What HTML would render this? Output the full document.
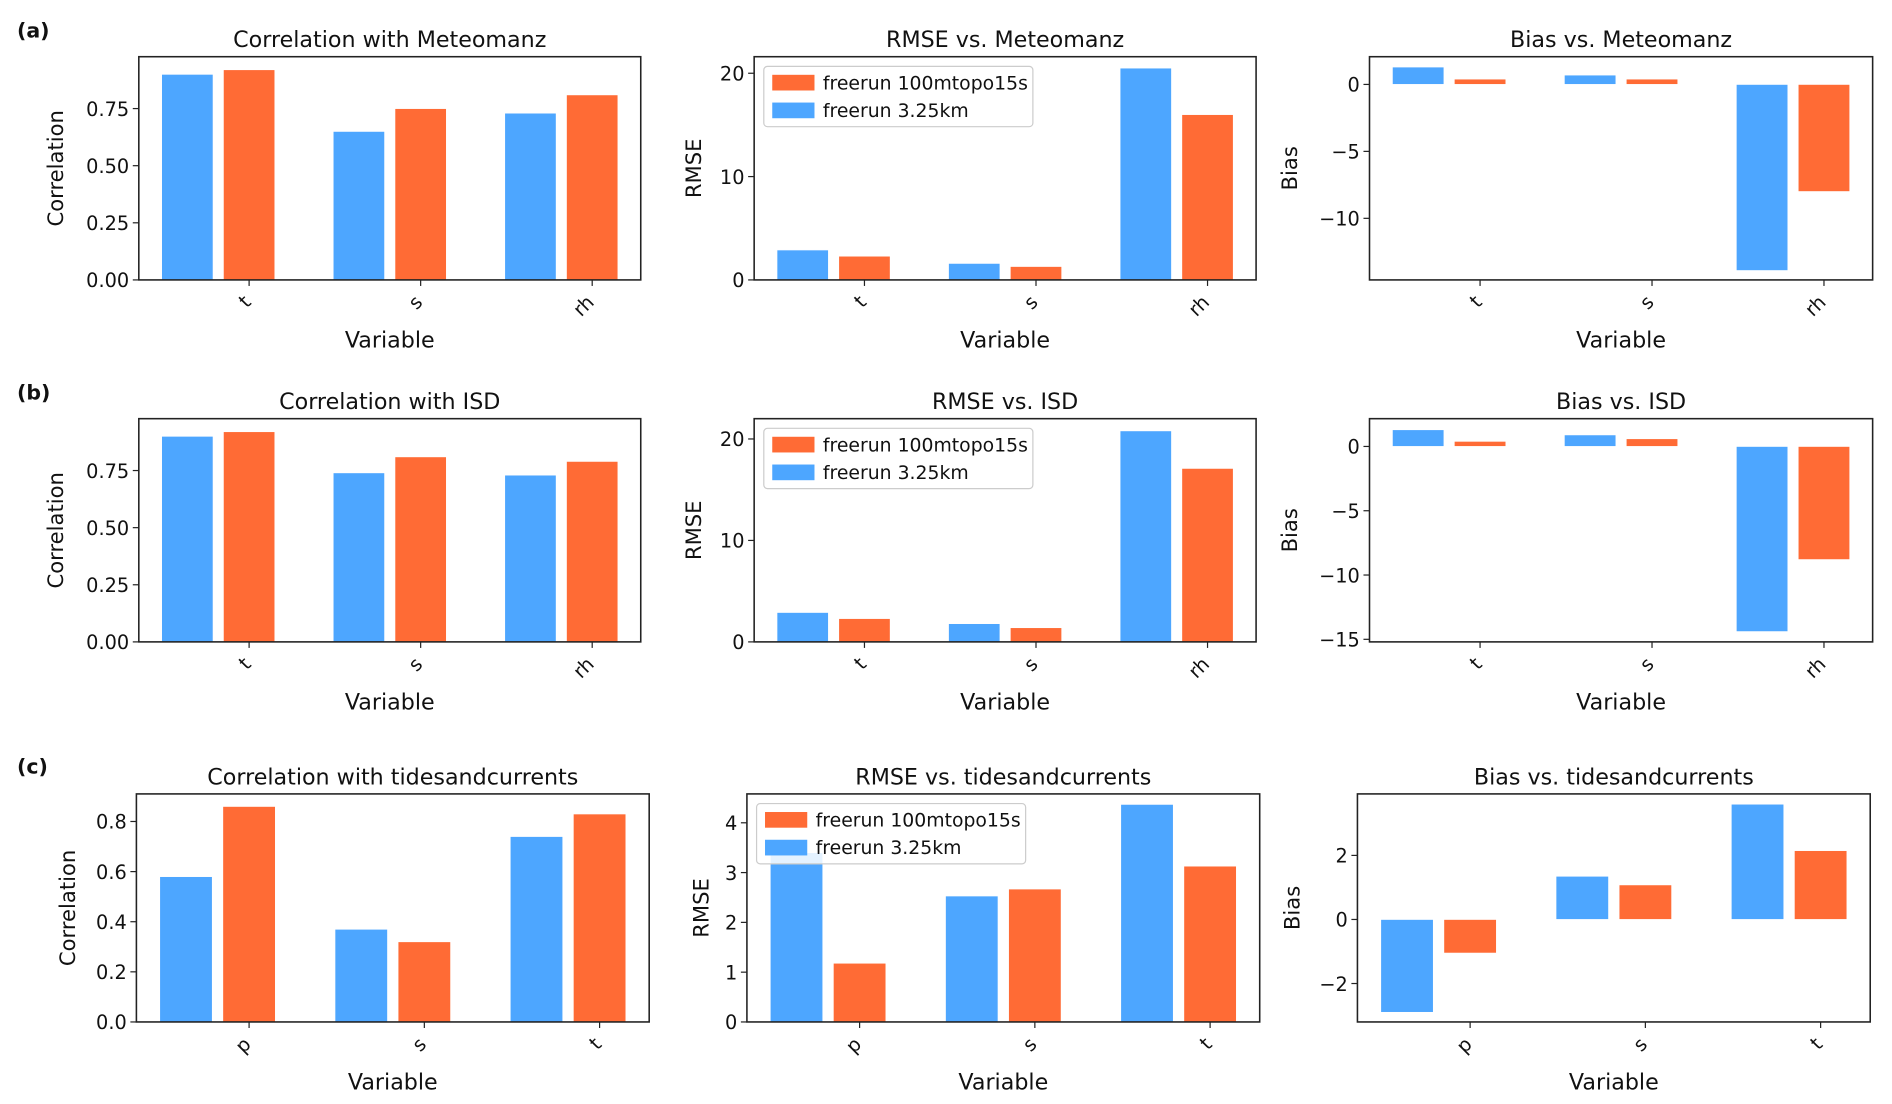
<!DOCTYPE html>
<html><head><meta charset="utf-8">
<style>
html,body{margin:0;padding:0;background:#fff;}
svg{display:block;}
text{font-family:"DejaVu Sans","Liberation Sans",sans-serif;fill:#111;}
</style></head>
<body>
<svg id="fig" width="1892" height="1104" viewBox="0 0 1568 915" xmlns="http://www.w3.org/2000/svg">
<text x="14" y="31" font-size="17" font-weight="bold">(a)</text>
<text x="14" y="331" font-size="17" font-weight="bold">(b)</text>
<text x="14" y="641" font-size="17" font-weight="bold">(c)</text>
</svg>
<script>
// ---- data ----
const catsAB = ["t","s","rh"];
const catsC = ["p","s","t"];
const seriesNames = ["freerun 100mtopo15s","freerun 3.25km"];

const corrMetBlue = [0.90,0.65,0.73];
const corrMetOrange = [0.92,0.75,0.81];
const rmseMetBlue = [2.9,1.6,20.5];
const rmseMetOrange = [2.3,1.3,16.0];
const biasMetBlue = [1.3,0.7,-13.9];
const biasMetOrange = [0.4,0.4,-8.0];

const corrIsdBlue = [0.90,0.74,0.73];
const corrIsdOrange = [0.92,0.81,0.79];
const rmseIsdBlue = [2.9,1.8,20.8];
const rmseIsdOrange = [2.3,1.4,17.1];
const biasIsdBlue = [1.3,0.9,-14.4];
const biasIsdOrange = [0.4,0.6,-8.8];

const corrTidBlue = [0.58,0.37,0.74];
const corrTidOrange = [0.86,0.32,0.83];
const rmseTidBlue = [3.4,2.53,4.37];
const rmseTidOrange = [1.18,2.67,3.13];
const biasTidBlue = [-2.9,1.35,3.6];
const biasTidOrange = [-1.05,1.08,2.15];

const corrTicksAB = [0,0.25,0.5,0.75];
const corrTickLabelsAB = ["0.00","0.25","0.50","0.75"];
const rmseTicksAB = [0,10,20];
const biasTicksA = [0,-5,-10];
const biasTicksB = [0,-5,-10,-15];
const corrTicksC = [0,0.2,0.4,0.6,0.8];
const corrTickLabelsC = ["0.0","0.2","0.4","0.6","0.8"];
const rmseTicksC = [0,1,2,3,4];
const biasTicksC = [-2,0,2];

const BLUE="#4da6ff", ORANGE="#ff6b35";
const svg=document.getElementById('fig');
const NS="http://www.w3.org/2000/svg";
function mk(tag,attrs,parent){const e=document.createElementNS(NS,tag);for(const k in attrs)e.setAttribute(k,attrs[k]);(parent||svg).appendChild(e);return e;}
function fmtNum(v){return v<0?"\u2212"+Math.abs(v):String(v);}

function panel(o){
  const g=mk('g',{});
  
  
  const L=o.x0,R=o.x1,T=o.y0,B=o.y1;
  const xmin=-0.643,xmax=2.283;
  const X=v=>L+(v-xmin)/(xmax-xmin)*(R-L);
  const Y=v=>B-(v-o.ymin)/(o.ymax-o.ymin)*(B-T);
  const t=mk('text',{x:(L+R)/2,y:T-8,'font-size':18.4,'text-anchor':'middle'},g);
  t.textContent=o.title;
  
  
  const w=0.3;
  for(let i=0;i<o.cats.length;i++){
    [[o.blue,-0.36,BLUE,'blue'],[o.orange,0,ORANGE,'orange']].forEach(([arr,off,col,nm])=>{
      const v=arr[i];
      const xa=X(i+off-w/2), xb=X(i+off+w/2);
      const ya=Y(Math.max(v,0)), yb=Y(Math.min(v,0));
      const r=mk('rect',{x:xa,y:Math.max(ya,T),width:xb-xa,height:Math.max(0,yb-Math.max(ya,T)),fill:col,stroke:'#fff','stroke-width':0.6},g);
      
      
    });
  }
  const f=mk('rect',{x:L,y:T,width:R-L,height:B-T,fill:'none',stroke:'#222','stroke-width':1.3},g);
  
  
  o.yticks.forEach((v,k)=>{
    const y=Y(v);
    mk('line',{x1:L-5,x2:L,y1:y,y2:y,stroke:'#222','stroke-width':1},g);
    const tl=mk('text',{x:L-8,y:y+6,'font-size':16,'text-anchor':'end'},g);
    tl.textContent=o.ylabels?o.ylabels[k]:fmtNum(v);
    
    
  });
  o.cats.forEach((c,i)=>{
    const x=X(i);
    mk('line',{x1:x,x2:x,y1:B,y2:B+5,stroke:'#222','stroke-width':1},g);
    const ax=x-6, ay=B+11;
    const tl=mk('text',{x:ax,y:ay+12,'font-size':16,'text-anchor':'end',transform:`rotate(-45 ${ax} ${ay})`},g);
    tl.textContent=c;
    
    
  });
  const xl=mk('text',{x:(L+R)/2,y:B+56,'font-size':18.4,'text-anchor':'middle'},g);
  xl.textContent="Variable";
  
  
  const yx=o.ylabX, yy=(T+B)/2;
  const yl=mk('text',{x:yx,y:yy,'font-size':17.5,'text-anchor':'middle',transform:`rotate(-90 ${yx} ${yy})`},g);
  yl.textContent=o.ylabel;
  
  
  if(o.legend){
    const lx=L+8,ly=T+8,lw=223,lh=50;
    const lg=mk('g',{},g);
    
    
    mk('rect',{x:lx,y:ly,width:lw,height:lh,rx:3,fill:'#fff','fill-opacity':0.85,stroke:'#ccc','stroke-width':1},lg);
    [[ORANGE,seriesNames[0]],[BLUE,seriesNames[1]]].forEach(([col,nm],k)=>{
      const e=mk('g',{},lg);
      
      
      mk('rect',{x:lx+7,y:ly+7+k*23,width:35,height:13,fill:col},e);
      const tt=mk('text',{x:lx+49,y:ly+19+k*23,'font-size':15.6},e);
      tt.textContent=nm;
    });
  }
}

const rowA={y0:47,y1:232}, rowB={y0:347,y1:532}, rowC={y0:658,y1:847};
panel({name:'corr-meteomanz',title:'Correlation with Meteomanz',x0:115,x1:531,...rowA,ymin:0,ymax:0.977,cats:catsAB,blue:corrMetBlue,orange:corrMetOrange,yticks:corrTicksAB,ylabels:corrTickLabelsAB,ylabel:'Correlation',ylabX:52});
panel({name:'rmse-meteomanz',title:'RMSE vs. Meteomanz',x0:625,x1:1041,...rowA,ymin:0,ymax:21.6,cats:catsAB,blue:rmseMetBlue,orange:rmseMetOrange,yticks:rmseTicksAB,ylabel:'RMSE',ylabX:581,legend:true});
panel({name:'bias-meteomanz',title:'Bias vs. Meteomanz',x0:1135,x1:1552,...rowA,ymin:-14.6,ymax:2.07,cats:catsAB,blue:biasMetBlue,orange:biasMetOrange,yticks:biasTicksA,ylabel:'Bias',ylabX:1075});

panel({name:'corr-isd',title:'Correlation with ISD',x0:115,x1:531,...rowB,ymin:0,ymax:0.977,cats:catsAB,blue:corrIsdBlue,orange:corrIsdOrange,yticks:corrTicksAB,ylabels:corrTickLabelsAB,ylabel:'Correlation',ylabX:52});
panel({name:'rmse-isd',title:'RMSE vs. ISD',x0:625,x1:1041,...rowB,ymin:0,ymax:22,cats:catsAB,blue:rmseIsdBlue,orange:rmseIsdOrange,yticks:rmseTicksAB,ylabel:'RMSE',ylabX:581,legend:true});
panel({name:'bias-isd',title:'Bias vs. ISD',x0:1135,x1:1552,...rowB,ymin:-15.2,ymax:2.16,cats:catsAB,blue:biasIsdBlue,orange:biasIsdOrange,yticks:biasTicksB,ylabel:'Bias',ylabX:1075});

panel({name:'corr-tides',title:'Correlation with tidesandcurrents',x0:113,x1:538,...rowC,ymin:0,ymax:0.91,cats:catsC,blue:corrTidBlue,orange:corrTidOrange,yticks:corrTicksC,ylabels:corrTickLabelsC,ylabel:'Correlation',ylabX:62});
panel({name:'rmse-tides',title:'RMSE vs. tidesandcurrents',x0:619,x1:1044,...rowC,ymin:0,ymax:4.58,cats:catsC,blue:rmseTidBlue,orange:rmseTidOrange,yticks:rmseTicksC,ylabel:'RMSE',ylabX:587,legend:true});
panel({name:'bias-tides',title:'Bias vs. tidesandcurrents',x0:1125,x1:1550,...rowC,ymin:-3.2,ymax:3.92,cats:catsC,blue:biasTidBlue,orange:biasTidOrange,yticks:biasTicksC,ylabel:'Bias',ylabX:1077});
</script>
</body></html>
